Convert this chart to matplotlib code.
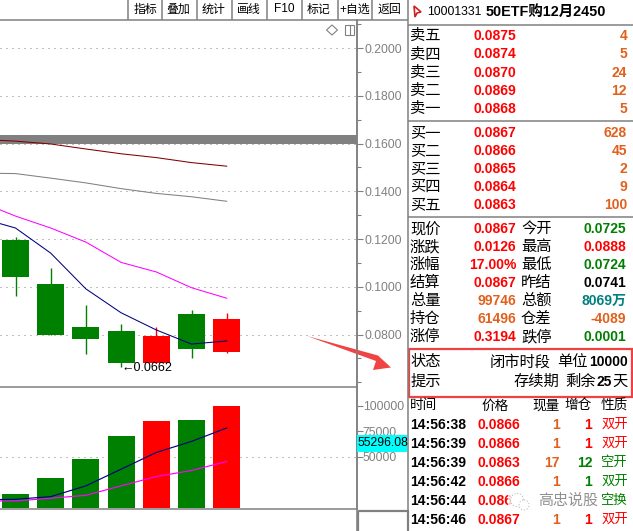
import matplotlib
matplotlib.use("Agg")
import matplotlib.pyplot as plt
from matplotlib.patches import Polygon, Rectangle, Circle
from matplotlib.ticker import MultipleLocator

plt.rcParams['font.family'] = ['Liberation Sans', 'Noto Sans CJK SC', 'DejaVu Sans']

# Candles
opens = [0.1196, 0.1012, 0.0832, 0.0815, 0.0681, 0.0886, 0.0725]
closes = [0.1042, 0.0799, 0.0781, 0.0681, 0.0794, 0.0739, 0.0867]
highs = [0.1208, 0.1079, 0.0924, 0.0844, 0.0832, 0.0903, 0.0888]
lows = [0.0963, 0.0799, 0.0718, 0.0662, 0.0681, 0.0703, 0.0724]
vols = [13700, 29400, 48000, 70600, 85300, 86300, 99746]

# Moving averages, first value is the day before the visible window
ma_x = [-1, 0, 1, 2, 3, 4, 5, 6]
ma_navy = [0.1288, 0.1246, 0.1141, 0.0991, 0.0891, 0.0819, 0.0760, 0.0773]
ma_magenta = [0.1355, 0.1296, 0.1246, 0.1187, 0.1102, 0.1062, 0.0996, 0.0952]
ma_gray = [0.1476, 0.1474, 0.1455, 0.1435, 0.1411, 0.1391, 0.1377, 0.1358]
ma_darkred = [0.1617, 0.1610, 0.1598, 0.1577, 0.1557, 0.1541, 0.1520, 0.1505]
vol_navy = [8000, 8500, 11100, 21600, 37900, 54200, 65000, 78100]
vol_magenta = [6900, 6900, 9500, 12400, 21600, 30700, 36600, 45400]

# Axis ticks
price_ticks = [0.08, 0.10, 0.12, 0.14, 0.16, 0.18, 0.20]
price_tick_labels = ["0.0800", "0.1000", "0.1200", "0.1400", "0.1600", "0.1800", "0.2000"]
vol_ticks = [50000, 75000, 100000]
vol_tick_labels = ["50000", "75000", "100000"]

# Toolbar
buttons = ["指标", "叠加", "统计", "画线", "F10", "标记", "+自选", "返回"]

# Order book
ask_labels = ["卖五", "卖四", "卖三", "卖二", "卖一"]
ask_prices = ["0.0875", "0.0874", "0.0870", "0.0869", "0.0868"]
ask_sizes = ["4", "5", "24", "12", "5"]
bid_labels = ["买一", "买二", "买三", "买四", "买五"]
bid_prices = ["0.0867", "0.0866", "0.0865", "0.0864", "0.0863"]
bid_sizes = ["628", "45", "2", "9", "100"]

# Quote block
left_labels = ["现价", "涨跌", "涨幅", "结算", "总量", "持仓", "涨停"]
left_values = ["0.0867", "0.0126", "17.00%", "0.0867", "99746", "61496", "0.3194"]
left_colors = ["red", "red", "red", "red", "#E0601C", "#E0601C", "red"]
right_labels = ["今开", "最高", "最低", "昨结", "总额", "仓差", "跌停"]
right_values = ["0.0725", "0.0888", "0.0724", "0.0741", "8069万", "-4089", "0.0001"]
right_colors = ["green", "red", "green", "black", "#008080", "#E0601C", "green"]

# Trades, the fifth row's sizes are hidden by the watermark in the picture
trade_headers = ["时间", "价格", "现量", "增仓", "性质"]
trade_times = ["14:56:38", "14:56:39", "14:56:39", "14:56:42", "14:56:44", "14:56:46"]
trade_prices = ["0.0866", "0.0866", "0.0863", "0.0866", "0.0866", "0.0867"]
trade_sizes = ["1", "1", "17", "1", "", "1"]
trade_oi = ["1", "1", "12", "1", "", "1"]
trade_oi_colors = ["red", "red", "green", "green", "green", "red"]
trade_kinds = ["双开", "双开", "空开", "双开", "空换", "双开"]
trade_kind_colors = ["red", "red", "green", "green", "green", "red"]

W, H = 633, 531
GRAY = "#808080"
GREEN = "#008000"
RED = "#FF0000"


def box(left, top, right, bottom):
    return [left / W, 1 - bottom / H, (right - left) / W, (bottom - top) / H]


fig = plt.figure(figsize=(W / 100, H / 100), dpi=100, facecolor="white")

# candle spacing is about 35.2 px, first center at 15.5 px
xlim = (-15.5 / 35.2, (356.5 - 15.5) / 35.2)
colors = [RED if c > o else GREEN for o, c in zip(opens, closes)]
idx = list(range(len(opens)))

ax = fig.add_axes(box(0, 19.5, 356.5, 386.5))
ax.set_xlim(xlim)
ax.set_ylim(0.05822, 0.21194)
ax.axhspan(0.1600, 0.1637, color=GRAY, lw=0, zorder=1)
for level in price_ticks:
    ax.axhline(level, color=GRAY, lw=0.72, ls=(0, (1, 5)), zorder=1)
ax.vlines(idx, lows, highs, colors=colors, lw=1.0, zorder=2)
ax.bar(idx, [abs(o - c) for o, c in zip(opens, closes)],
       bottom=[min(o, c) for o, c in zip(opens, closes)],
       width=27 / 35.2, color=colors, zorder=3)
ax.plot(ma_x, ma_darkred, color="#800000", lw=0.75, zorder=4)
ax.plot(ma_x, ma_gray, color=GRAY, lw=0.75, zorder=4)
ax.plot(ma_x, ma_magenta, color="#FF00FF", lw=0.75, zorder=4)
ax.plot(ma_x, ma_navy, color="#000080", lw=0.75, zorder=4)
ax.annotate("←0.0662", (3, lows[3]), xytext=(0, -1), textcoords="offset pixels",
            fontsize=9, color="black", va="center", ha="left")

vax = fig.add_axes(box(0, 386.5, 356.5, 509))
vax.set_xlim(xlim)
vax.set_ylim(-980, 118600)
vax.axhline(50000, color=GRAY, lw=0.72, ls=(0, (1, 5)), zorder=1)
vax.bar(idx, vols, width=27 / 35.2, color=colors, zorder=3)
vax.plot(ma_x, vol_magenta, color="#FF00FF", lw=0.85, zorder=4)
vax.plot(ma_x, vol_navy, color="#000080", lw=0.85, zorder=4)

for a in (ax, vax):
    a.set_xticks([])
    a.yaxis.tick_right()
    a.patch.set_alpha(0)
    for side in ("left", "top"):
        a.spines[side].set_visible(False)
    for s in a.spines.values():
        s.set_color(GRAY)
        s.set_linewidth(1.1)
    a.tick_params(axis="y", which="major", length=4, width=0.8, color=GRAY,
                  labelcolor=GRAY, labelsize=8.8, pad=1.5)
ax.set_yticks(price_ticks, price_tick_labels)
ax.yaxis.set_minor_locator(MultipleLocator(0.01))
ax.tick_params(axis="y", which="minor", length=3, width=0.8, color=GRAY)
vax.set_yticks(vol_ticks, vol_tick_labels)
vax.tick_params(axis="y", pad=0.5)

# Pixel coordinate layer for the software's panels
ui = fig.add_axes([0, 0, 1, 1], zorder=5)
ui.set_xlim(0, W)
ui.set_ylim(H, 0)
ui.axis("off")
ui.patch.set_alpha(0)


def hline(y, x0, x1, lw=1.1):
    ui.plot([x0, x1], [y, y], color=GRAY, lw=lw, solid_capstyle="butt")


def vline(x, y0, y1, lw=1.1):
    ui.plot([x, x], [y0, y1], color=GRAY, lw=lw, solid_capstyle="butt")


def label(x, y, s, size=11, color="black", ha="left", **kw):
    ui.text(x, y, s, fontsize=size, color=color, ha=ha, va="center", **kw)


def value(x, y, s, color, size=10, ha="right"):
    ui.text(x, y, s, fontsize=size, color=color, ha=ha, va="center", fontweight="bold")


# Toolbar
hline(19.5, 0, 408)
for x in [127.5, 161.5, 196.5, 231.5, 266.5, 301.5, 337.5, 371.5]:
    vline(x, 0, 19.5)
for x, s in zip([145, 178.5, 213.5, 248.5, 284, 319, 354.5, 389.5], buttons):
    label(x, 9.5, s, size=8.6, ha="center")

# Icons top right of the chart
ui.add_patch(Polygon([(332, 25), (337.5, 30), (332, 35), (326.5, 30)], fill=False, ec=GRAY, lw=0.8))
ui.add_patch(Rectangle((344.5, 25), 9, 9.5, fill=False, ec=GRAY, lw=0.8))
vline(350, 25, 34.5, lw=0.8)

# Cyan last value flag and corner box
ui.add_patch(Rectangle((357, 435), 50, 16.5, fc="#00FFFF", ec="none", zorder=3))
ui.text(358, 443.5, "55296.08", fontsize=8.8, color="black", va="center", zorder=4,
        clip_on=True, clip_path=Rectangle((357, 435), 50, 16.5, transform=ui.transData))
ui.add_patch(Rectangle((357.5, 510.5), 50, 30, fill=False, ec=GRAY, lw=1.6))
vline(357, 19.5, 531)
vline(407.5, 0, 531)

# Big red arrow
ui.add_patch(Polygon([(307, 336), (378, 355.5), (391, 367.5), (373, 370), (376, 361)],
                     fc="#F04444", ec="none"))

# Panel header
ui.add_patch(Polygon([(414, 6), (421, 12), (417, 13), (415, 17)], fc="white", ec="#D02020", lw=1.2))
label(427, 12, "10001331", size=8.8)
label(486, 12, "50ETF购12月2450", size=10.4, fontweight="bold")
hline(24.5, 408, 633)

# Order book
for y, a, p, q in zip([36, 54.5, 73, 91, 109], ask_labels, ask_prices, ask_sizes):
    label(410, y, a)
    value(516, y, p, RED)
    value(627, y, q, "#E0601C")
hline(120.5, 408, 633)
for y, a, p, q in zip([133, 151, 169, 187, 205], bid_labels, bid_prices, bid_sizes):
    label(410, y, a)
    value(516, y, p, RED)
    value(627, y, q, "#E0601C")
hline(216.5, 408, 633)

# Quote block
for i, y in enumerate([229, 247, 265, 283, 301, 319, 337]):
    label(410, y, left_labels[i])
    value(516, y, left_values[i], left_colors[i])
    label(521, y, right_labels[i])
    value(626, y, right_values[i], right_colors[i])

# Status block with red box
ui.add_patch(Rectangle((409, 349), 222.5, 48, fill=False, ec="#F04040", lw=1.6))
label(411, 362, "状态")
label(411, 382, "提示")
label(490, 362, "闭市时段")
label(557, 362, "单位")
value(628, 362, "10000", "black")
label(513, 382, "存续期")
label(565, 382, "剩余")
value(612, 382, "25", "black")
label(628, 382, "天", ha="right")

# Trades
for x, s, ha in zip([410, 495, 560, 592, 628], trade_headers,
                    ["left", "center", "right", "right", "right"]):
    label(x, 405.5, s, size=9.8, ha=ha)
for i, y in enumerate([425, 444, 463, 482, 501, 520]):
    value(410, y, trade_times[i], "black", ha="left")
    value(520, y, trade_prices[i], RED)
    value(560, y, trade_sizes[i], "#E0601C")
    value(592, y, trade_oi[i], trade_oi_colors[i])
    label(628, y, trade_kinds[i], size=9.6, color=trade_kind_colors[i], ha="right")

# Watermark
ui.add_patch(Rectangle((508, 491), 92, 21, fc="white", ec="none", alpha=0.75, zorder=6))
ui.add_patch(Circle((517, 500), 6.5, fc="white", ec="#C0C0C0", lw=0.8, ls=":", zorder=7))
ui.add_patch(Circle((524, 505), 5, fc="white", ec="#C0C0C0", lw=0.8, ls=":", zorder=7))
ui.text(538, 501, "高忠说股", fontsize=10.8, color="#909090", va="center", zorder=7)

fig.savefig("out.png", dpi=100)
